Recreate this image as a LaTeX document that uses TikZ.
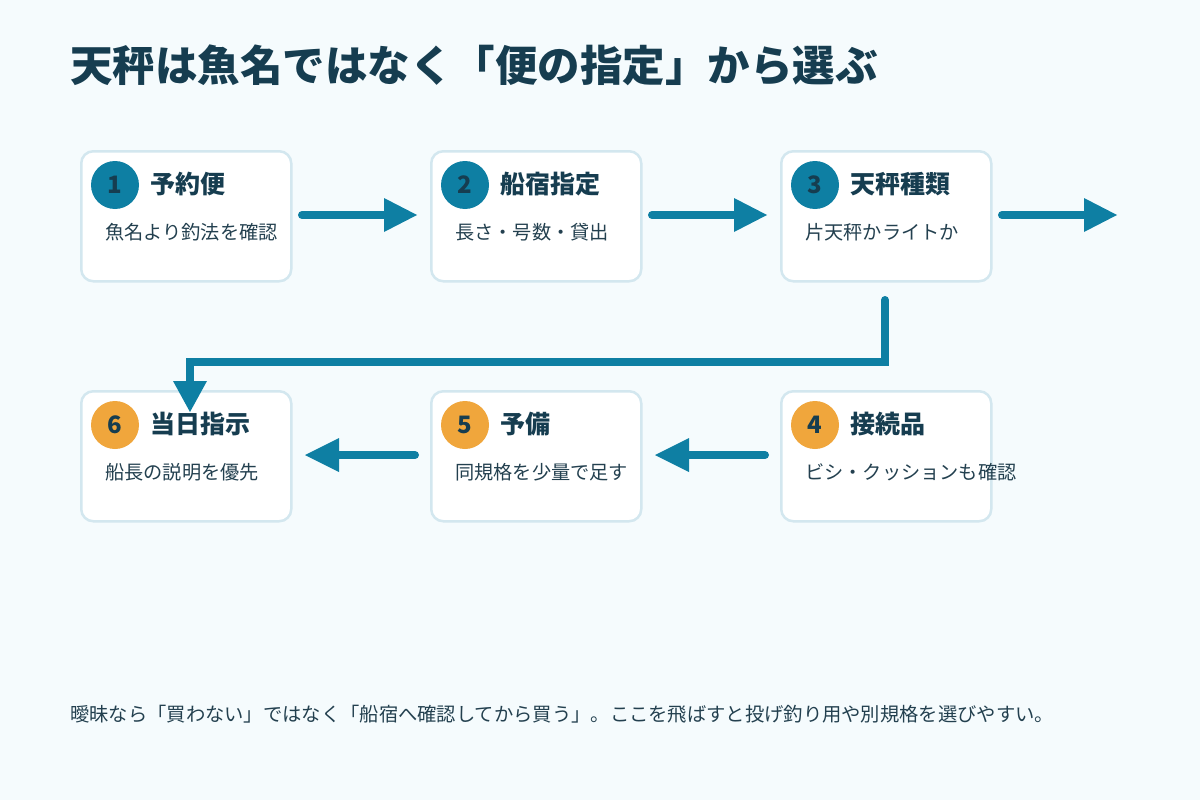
\documentclass[tikz,border=0pt]{standalone}
\usepackage{fontspec}
\usetikzlibrary{calc}
\setmainfont{Noto Sans CJK JP}
\begin{document}
\definecolor{bg}{HTML}{F5FBFD}
\definecolor{bd}{HTML}{D3E7EF}
\definecolor{teal}{HTML}{0E7FA3}
\definecolor{org}{HTML}{F0A63C}
\definecolor{ink}{HTML}{163D50}
\definecolor{txt}{HTML}{23404F}
\begin{tikzpicture}[x=1pt,y=-1pt,
 box/.style={draw=bd,line width=2.5pt,fill=white,rounded corners=12pt,minimum width=210pt,minimum height=130pt,inner sep=0pt},
 num/.style={circle,minimum size=48pt,inner sep=0pt,text=ink,font=\fontsize{24}{24}\selectfont\bfseries},
 ttl/.style={anchor=west,text=ink,font=\fontsize{25}{25}\selectfont\bfseries,inner sep=0pt},
 sub/.style={anchor=west,text=txt,font=\fontsize{19.2}{19}\selectfont,inner sep=0pt},
 conn/.style={draw=teal,line width=8pt},
 tip/.style={fill=teal}]
\useasboundingbox (0,0) rectangle (1200,800);
\fill[bg] (0,0) rectangle (1200,800);
\node[anchor=west,text=ink,font=\fontsize{42.5}{42}\selectfont\bfseries,inner sep=0pt] (title) at (70,65) {天秤は魚名ではなく「便の指定」から選ぶ};
% boxes
\foreach \i/\x/\y/\c/\t/\s in {1/80/150/teal/予約便/魚名より釣法を確認,2/430/150/teal/船宿指定/長さ・号数・貸出,3/780/150/teal/天秤種類/片天秤かライトか,4/780/390/org/接続品/ビシ・クッションも確認,5/430/390/org/予備/同規格を少量で足す,6/80/390/org/当日指示/船長の説明を優先}{
 \node[box,anchor=north west] (b\i) at (\x,\y) {};
 \node[num,fill=\c] (n\i) at (\x+35,\y+35) {\i};
 \node[ttl] (t\i) at (\x+70,\y+34) {\t};
 \node[sub] (s\i) at (\x+25,\y+82) {\s};
}
% arrows row 1
\coordinate (a1s) at (302,215); \coordinate (a1e) at (388,215);
\coordinate (a2s) at (652,215); \coordinate (a2e) at (738,215);
\coordinate (a3s) at (1002,215); \coordinate (a3e) at (1088,215);
\foreach \a in {1,2,3}{
 \draw[conn,line cap=round] (a\a s) -- (a\a e);
 \fill[tip] ($(a\a e)+(-4,-17)$) -- ($(a\a e)+(29,0)$) -- ($(a\a e)+(-4,17)$) -- cycle;
}
% row 2 arrows (leftward)
\coordinate (a4s) at (765,455); \coordinate (a4e) at (685,455);
\coordinate (a5s) at (415,455); \coordinate (a5e) at (335,455);
\foreach \a in {4,5}{
 \draw[conn,line cap=round] (a\a s) -- (a\a e);
 \fill[tip] ($(a\a e)+(4,-17)$) -- ($(a\a e)+(-30,0)$) -- ($(a\a e)+(4,17)$) -- cycle;
}
% connector 3 -> 6
\coordinate (c0) at (885,300);
\coordinate (c1) at (885,362);
\coordinate (c2) at (190,362);
\coordinate (c3) at (190,384);
\draw[conn,line cap=round,line join=miter] (c0) -- (c1) -- (c2) -- (c3);
\fill[tip] (173,381) -- (207,381) -- (190,412) -- cycle;
\node[anchor=west,text=txt,font=\fontsize{19.3}{19}\selectfont,inner sep=0pt] (foot) at (70,714) {曖昧なら「買わない」ではなく「船宿へ確認してから買う」。ここを飛ばすと投げ釣り用や別規格を選びやすい。};
\end{tikzpicture}
\end{document}
